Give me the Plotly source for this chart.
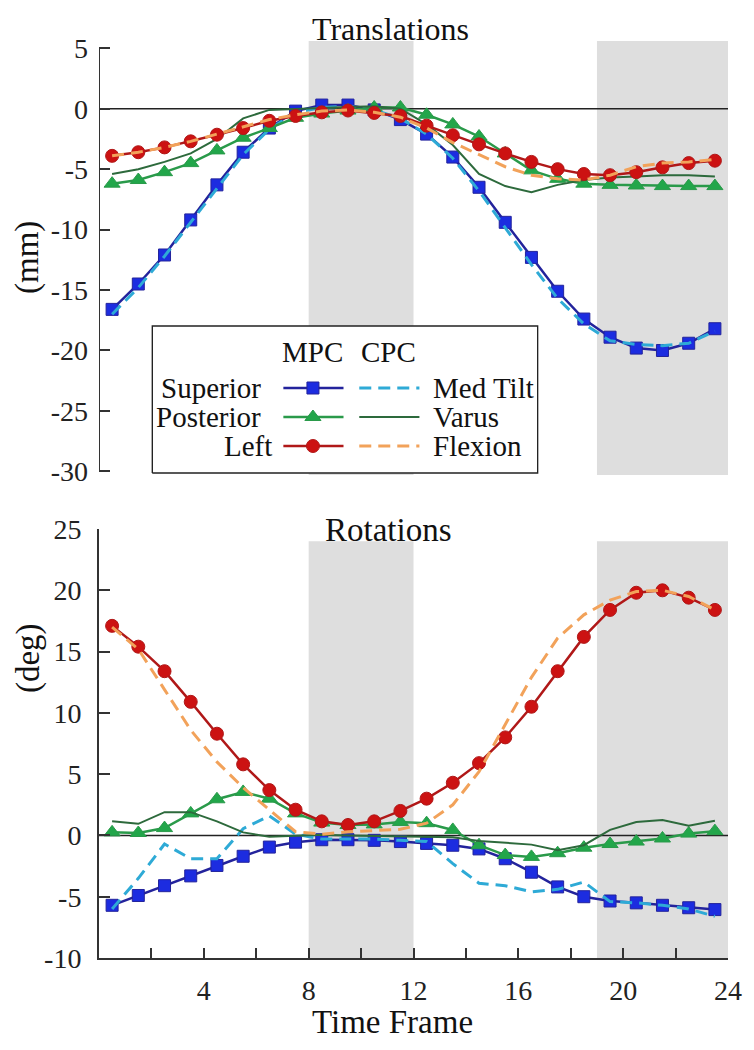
import plotly.graph_objects as go

# time frames (marker positions)
time = [0.5, 1.5, 2.5, 3.5, 4.5, 5.5, 6.5, 7.5, 8.5, 9.5, 10.5, 11.5,
        12.5, 13.5, 14.5, 15.5, 16.5, 17.5, 18.5, 19.5, 20.5, 21.5, 22.5, 23.5]

# Translations (mm)
superior = [-16.6, -14.5, -12.1, -9.2, -6.3, -3.6, -1.6, -0.2, 0.3, 0.3, -0.1, -0.9,
            -2.1, -4.0, -6.5, -9.4, -12.3, -15.1, -17.4, -18.9, -19.8, -20.0, -19.4, -18.2]
posterior = [-6.2, -5.9, -5.25, -4.5, -3.45, -2.4, -1.6, -0.75, -0.4, -0.15, 0.1, 0.1,
             -0.5, -1.3, -2.3, -3.7, -5.1, -5.8, -6.2, -6.3, -6.35, -6.4, -6.4, -6.4]
left = [-3.9, -3.6, -3.2, -2.7, -2.15, -1.6, -1.0, -0.6, -0.3, -0.15, -0.35, -0.6,
        -1.4, -2.2, -2.95, -3.7, -4.4, -5.0, -5.4, -5.5, -5.25, -4.85, -4.5, -4.3]
med_tilt_t = [-17.0, -14.8, -12.2, -9.4, -6.6, -3.8, -1.7, -0.3, 0.1, 0.2, -0.1, -0.8,
              -2.1, -4.1, -6.8, -9.8, -12.9, -15.7, -17.8, -19.2, -19.5, -19.6, -19.4, -18.4]
varus_t = [-5.4, -5.0, -4.4, -3.7, -2.5, -0.8, -0.1, 0.0, 0.1, 0.15, 0.2, 0.0,
           -1.3, -3.0, -5.4, -6.4, -6.9, -6.3, -5.9, -5.7, -5.6, -5.5, -5.5, -5.6]
flexion_t = [-3.9, -3.6, -3.2, -2.7, -2.1, -1.5, -0.9, -0.5, -0.2, -0.1, -0.3, -0.7,
             -1.6, -2.8, -3.8, -4.8, -5.5, -5.8, -5.9, -5.5, -4.8, -4.5, -4.4, -4.2]

# Rotations (deg)
superior_r = [-5.7, -4.9, -4.1, -3.3, -2.45, -1.7, -0.95, -0.55, -0.35, -0.35, -0.4, -0.5,
              -0.65, -0.8, -1.1, -1.9, -3.0, -4.2, -5.0, -5.35, -5.5, -5.7, -5.9, -6.05]
posterior_r = [0.25, 0.2, 0.6, 1.8, 2.95, 3.55, 3.0, 1.8, 1.05, 0.85, 0.9, 1.1,
               1.0, 0.45, -0.8, -1.6, -1.75, -1.45, -1.0, -0.7, -0.5, -0.25, 0.15, 0.35]
left_r = [17.1, 15.4, 13.4, 10.9, 8.3, 5.8, 3.7, 2.1, 1.15, 0.85, 1.15, 2.0,
          3.0, 4.3, 5.9, 8.0, 10.5, 13.4, 16.2, 18.4, 19.8, 20.0, 19.4, 18.4]
med_tilt_r = [-6.0, -3.5, -0.7, -1.9, -1.9, 0.55, 1.6, 0.1, -0.3, -0.3, -0.3, -0.4,
              -0.5, -2.3, -3.9, -4.1, -4.6, -4.4, -3.8, -5.4, -5.5, -5.7, -6.0, -6.6]
varus_r = [1.15, 0.95, 1.9, 1.9, 1.15, 0.25, -0.1, 0.0, 0.05, 0.0, -0.05, -0.1,
           -0.1, -0.15, -0.45, -0.6, -0.75, -1.2, -0.8, 0.45, 1.1, 1.25, 0.8, 1.2]
flexion_r = [17.0, 15.2, 11.9, 8.6, 6.0, 3.9, 2.1, 0.3, 0.1, 0.3, 0.4, 0.5,
             1.0, 2.5, 5.2, 9.0, 12.9, 16.1, 18.0, 19.2, 19.9, 20.0, 19.5, 18.4]

x_ticks = [0, 2, 4, 6, 8, 10, 12, 14, 16, 18, 20, 22, 24]
x_labels = ['', '', '4', '', '8', '', '12', '', '16', '', '20', '', '24']
yt_ticks = [-30, -25, -20, -15, -10, -5, 0, 5]
yr_ticks = [-10, -5, 0, 5, 10, 15, 20, 25]
shaded = [(8, 12), (19, 24)]

FONT = 'Liberation Serif'
OFF = 8  # page body margin
W, H = 754 - OFF, 1050 - OFF
L, R, T, B = 99 - OFF, 17, 41 - OFF, 92


def px(x):
    # screen pixel -> paper fraction
    return (x - OFF - L) / (W - L - R)


def py(y):
    return (H - B - (y - OFF)) / (H - T - B)


mpc = [
    dict(name='Superior', line='#23239c', mk='#1c2ce0', sym='square', size=12),
    dict(name='Posterior', line='#2a9a4a', mk='#22a64a', sym='triangle-up', size=14),
    dict(name='Left', line='#b01818', mk='#cc1212', sym='circle', size=13),
]
cpc = [
    dict(name='Med Tilt', line='#2eaad6', dash='12px,7px', width=3),
    dict(name='Varus', line='#2d6a3c', dash='solid', width=2),
    dict(name='Flexion', line='#f2a25a', dash='12px,7px', width=3),
]

fig = go.Figure()

panels = [
    ('x', 'y', [superior, posterior, left], [med_tilt_t, varus_t, flexion_t]),
    ('x2', 'y2', [superior_r, posterior_r, left_r], [med_tilt_r, varus_r, flexion_r]),
]
for xa, ya, mvals, cvals in panels:
    for i in range(3):
        m, c = mpc[i], cpc[i]
        fig.add_trace(go.Scatter(
            x=time, y=mvals[i], xaxis=xa, yaxis=ya, mode='lines+markers',
            line=dict(color=m['line'], width=2.5),
            marker=dict(symbol=m['sym'], size=m['size'], color=m['mk'],
                        line=dict(color=m['line'], width=1)),
            showlegend=False))
        fig.add_trace(go.Scatter(
            x=time, y=cvals[i], xaxis=xa, yaxis=ya, mode='lines',
            line=dict(color=c['line'], width=c['width'], dash=c['dash']),
            showlegend=False))

# hand-made legend box on its own axes (screen-pixel coordinates)
fig.add_trace(go.Scatter(
    x=[153, 544, 544, 153, 153], y=[473, 473, 326, 326, 473],
    xaxis='x3', yaxis='y3', mode='lines', fill='toself', fillcolor='white',
    line=dict(color='#222222', width=1.5), showlegend=False, hoverinfo='skip'))
rows_y = [388, 417, 446]
for i in range(3):
    m, c = mpc[i], cpc[i]
    fig.add_trace(go.Scatter(
        x=[286, 316, 347], y=[rows_y[i]] * 3, xaxis='x3', yaxis='y3',
        mode='lines+markers', line=dict(color=m['line'], width=2.5),
        marker=dict(symbol=m['sym'], size=m['size'], color=m['mk'],
                    opacity=[0, 1, 0], line=dict(color=m['line'], width=1)),
        showlegend=False, hoverinfo='skip'))
    fig.add_trace(go.Scatter(
        x=[363, 424], y=[rows_y[i]] * 2, xaxis='x3', yaxis='y3', mode='lines',
        line=dict(color=c['line'], width=c['width'], dash=c['dash']),
        showlegend=False, hoverinfo='skip'))

annotations = []
for txt, xx in [('MPC', 316), ('CPC', 393)]:
    annotations.append(dict(text=txt, x=xx, y=352, xref='x3', yref='y3',
                            xanchor='center', yanchor='middle',
                            showarrow=False, font=dict(size=29)))
for i in range(3):
    annotations.append(dict(text=mpc[i]['name'], x=[265, 265, 276][i], y=rows_y[i],
                            xref='x3', yref='y3', xanchor='right', yanchor='middle',
                            showarrow=False, font=dict(size=29)))
    annotations.append(dict(text=cpc[i]['name'], x=436, y=rows_y[i],
                            xref='x3', yref='y3', xanchor='left', yanchor='middle',
                            showarrow=False, font=dict(size=29)))

# panel title at the very top: anchor its top just inside the page
annotations.append(dict(text='Translations', x=px(395), y=py(9), xref='paper',
                        yref='paper', xanchor='center', yanchor='top',
                        showarrow=False, font=dict(size=32)))
for txt, xx, yy, ang in [('Rotations', 393, 530, 0),
                         ('Time Frame', 397, 1022, 0), ('(mm)', 27, 258, -90),
                         ('(deg)', 27, 658, -90)]:
    annotations.append(dict(text=txt, x=px(xx), y=py(yy), xref='paper', yref='paper',
                            xanchor='center', yanchor='middle',
                            showarrow=False, textangle=ang, font=dict(size=33)))

shapes = []
for x0, x1 in shaded:
    shapes.append(dict(type='rect', xref='x', yref='y', x0=x0, x1=x1, y0=-30.3, y1=5.6,
                       fillcolor='#dedede', line=dict(width=0), layer='below'))
    shapes.append(dict(type='rect', xref='x2', yref='y2', x0=x0, x1=x1, y0=-10, y1=24,
                       fillcolor='#dedede', line=dict(width=0), layer='below'))
shapes.append(dict(type='line', xref='x', yref='y', x0=0, x1=24, y0=0, y1=0,
                   line=dict(color='#222222', width=1.5), layer='below'))
shapes.append(dict(type='line', xref='x2', yref='y2', x0=0, x1=24, y0=0, y1=0,
                   line=dict(color='#222222', width=1.5), layer='below'))
shapes.append(dict(type='line', xref='x', yref='y', x0=0, x1=0, y0=-30, y1=5,
                   line=dict(color='#333333', width=2)))

yax = dict(ticks='inside', ticklen=11, tickwidth=1.5, tickcolor='#333333',
           showgrid=False, zeroline=False, tickfont=dict(size=28, color='#222222'),
           ticklabelstandoff=10)

fig.update_layout(
    width=W, height=H, margin=dict(l=L, r=R, t=T, b=B),
    paper_bgcolor='white', plot_bgcolor='rgba(0,0,0,0)',
    font=dict(family=FONT, color='#111111'),
    xaxis=dict(domain=[0, 1], range=[0, 24], visible=False, anchor='y'),
    yaxis=dict(domain=[0.5267, 1], range=[-30.3, 5.6], anchor='x', showline=False,
               tickvals=yt_ticks, ticktext=[str(v) for v in yt_ticks], **yax),
    xaxis2=dict(domain=[0, 1], range=[0, 24], anchor='y2', showline=True, linewidth=2,
                linecolor='#333333', tickvals=x_ticks, ticktext=x_labels,
                ticks='inside', ticklen=10, tickwidth=1.5, tickcolor='#333333',
                showgrid=False, zeroline=False, tickfont=dict(size=28, color='#222222'),
                ticklabelstandoff=6),
    yaxis2=dict(domain=[0, 0.4678], range=[-10, 25], anchor='x2', showline=True,
                linewidth=2, linecolor='#333333',
                tickvals=yr_ticks, ticktext=[str(v) for v in yr_ticks], **yax),
    xaxis3=dict(domain=[px(152), px(545)], range=[152, 545], visible=False, anchor='y3'),
    yaxis3=dict(domain=[py(474), py(325)], range=[474, 325], visible=False, anchor='x3'),
    shapes=shapes, annotations=annotations,
)

fig.write_html("out.html")
